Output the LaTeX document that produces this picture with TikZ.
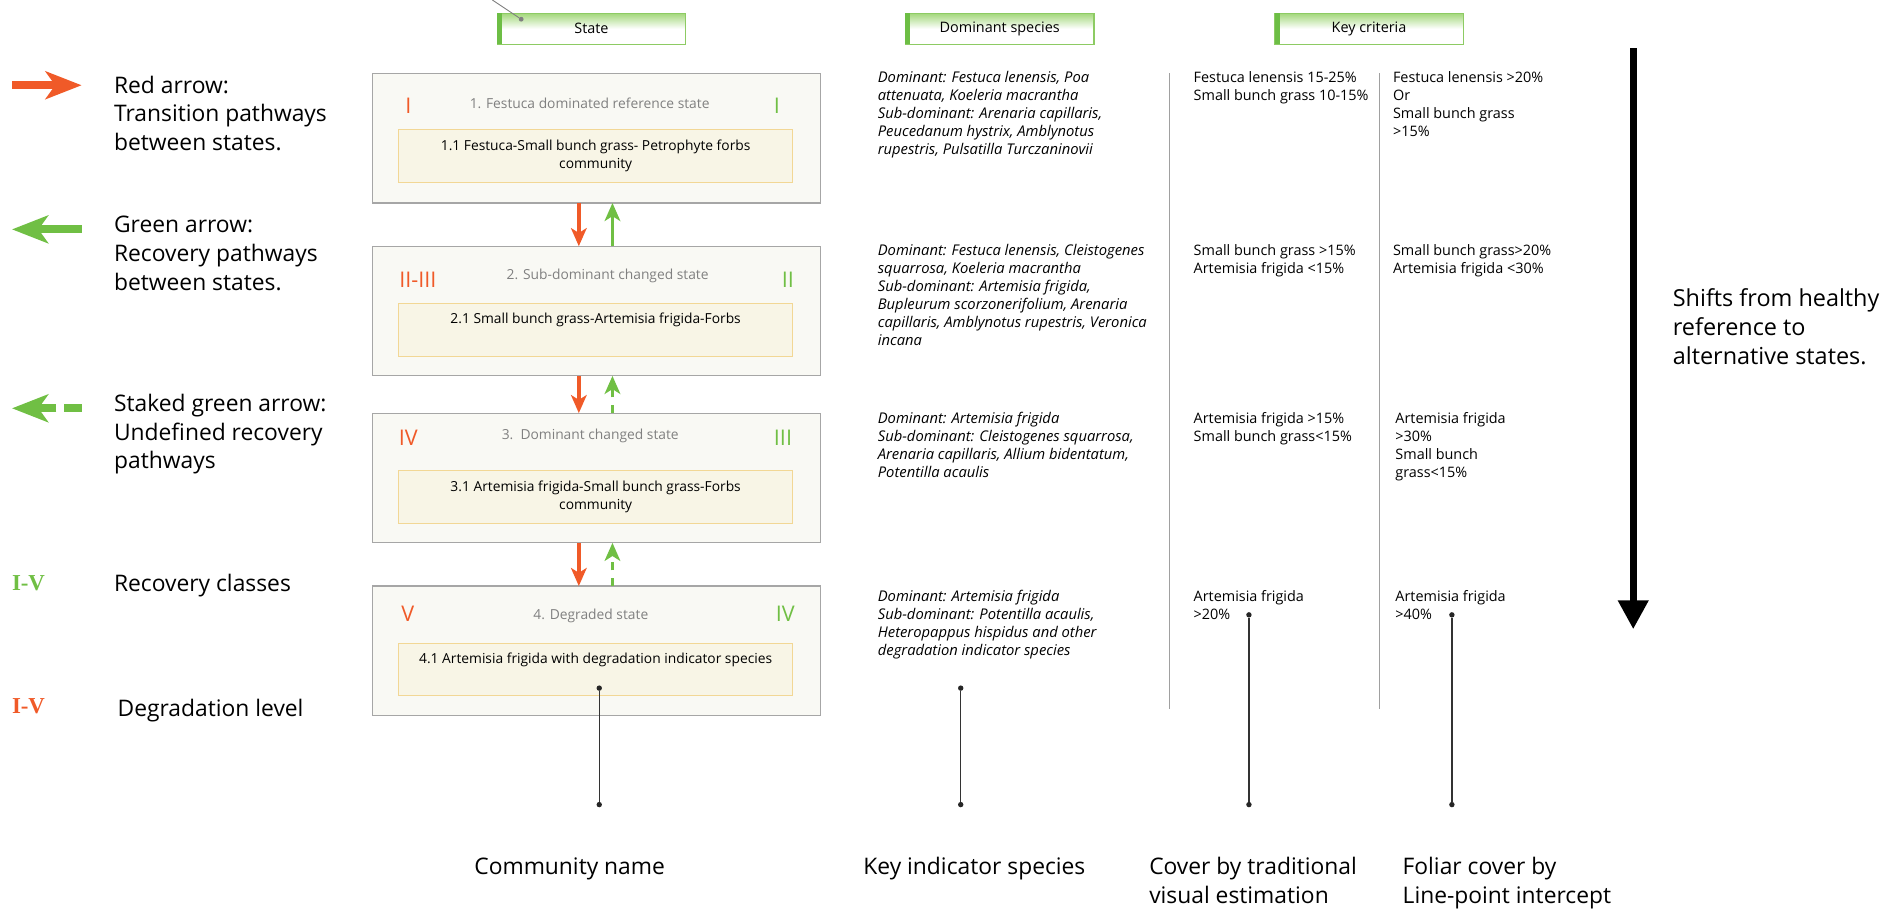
\documentclass[tikz,border=0pt]{standalone}
\usepackage{fontspec}
\setmainfont{Open Sans}
\newfontfamily\numfont{Liberation Serif}
\usetikzlibrary{arrows.meta}
\definecolor{cred}{HTML}{F05A28}
\definecolor{cgreen}{HTML}{70BF44}
\definecolor{boxfill}{HTML}{F9F9F4}
\definecolor{boxdraw}{HTML}{A6A6A6}
\definecolor{infill}{HTML}{F8F5E6}
\definecolor{indraw}{HTML}{F2D795}
\definecolor{titlegray}{HTML}{808080}
\definecolor{hdrgreen}{HTML}{A2D77A}
\definecolor{hdrborder}{HTML}{8DCB63}
\definecolor{hdrbar}{HTML}{6DBE45}
\definecolor{vline}{HTML}{A0A0A0}
\begin{document}
\begin{tikzpicture}[x=1pt,y=-1pt,
  every node/.style={inner sep=0pt, outer sep=0pt},
  hdr/.style={draw=hdrborder, line width=0.9pt, top color=hdrgreen, bottom color=white, middle color=white, minimum width=157pt, minimum height=26pt, font=\fontsize{12}{14}\selectfont},
  stbox/.style={draw=boxdraw, fill=boxfill, line width=1pt, minimum width=373pt, minimum height=108pt},
  inbox/.style={draw=indraw, fill=infill, line width=0.8pt, minimum width=328pt, minimum height=44pt, align=center, font=\fontsize{11.5}{15}\selectfont},
  sttitle/.style={text=titlegray, font=\fontsize{11.5}{14}\selectfont},
  rnum/.style={font=\fontsize{18}{20}\selectfont},
  spec/.style={anchor=north west, align=left, font=\fontsize{12.3}{15}\selectfont\itshape},
  crit/.style={anchor=north west, align=left, font=\fontsize{12}{15}\selectfont},
  legtext/.style={anchor=north west, align=left, font=\fontsize{19}{24}\selectfont},
  trans/.style={draw=cred, line width=2.8pt, -{Stealth[length=15pt,width=13pt,inset=4pt]}},
  recov/.style={draw=cgreen, line width=2.8pt, -{Stealth[length=15pt,width=13pt,inset=4pt]}},
  recovdash/.style={recov, dash pattern=on 7pt off 6pt},
  bigred/.style={draw=cred, line width=6.5pt, -{Stealth[length=30pt,width=23pt,inset=8pt]}},
  biggreen/.style={draw=cgreen, line width=6.5pt, -{Stealth[length=30pt,width=23pt,inset=8pt]}},
  leader/.style={draw=black!80, line width=1.2pt},
  dotmark/.style={circle, fill=black!85, minimum size=4.5pt},
  numlab/.style={anchor=west, font=\fontsize{19}{20}\selectfont\numfont\bfseries}
]
\useasboundingbox (0,0) rectangle (1568,757);

% header boxes
\node[hdr] (hS) at (492.5,24) {State};
\node[hdr] (hD) at (832.5,24) {Dominant species};
\node[hdr] (hK) at (1140,24) {Key criteria};
\foreach \h in {hS,hD,hK}{
  \fill[hdrbar] (\h.north west) rectangle ([xshift=4pt]\h.south west);
}
\coordinate (st0) at (410,0);
\node[circle, fill=gray, minimum size=4pt] (stdot) at (434,16) {};
\draw[gray, line width=0.8pt] (st0) -- (stdot);

% state boxes
\node[stbox] (s1) at (496.5,115) {};
\node[stbox] (s2) at (496.5,259) {};
\node[stbox] (s3) at (496.5,398) {};
\node[stbox] (s4) at (496.5,542) {};

\node[sttitle] (t1) at (491,86) {1. Festuca dominated reference state};
\node[sttitle] (t2) at (506,230) {2. Sub-dominant changed state};
\node[sttitle] (t3) at (491.5,363) {3.\ \ Dominant changed state};
\node[sttitle] (t4) at (492,513) {4. Degraded state};

\node[inbox] (i1) at (496,130) {1.1 Festuca-Small bunch grass- Petrophyte forbs\\community};
\node[inbox] (i2) at (496,274.5) {2.1 Small bunch grass-Artemisia frigida-Forbs\\\strut};
\node[inbox] (i3) at (496,413.5) {3.1 Artemisia frigida-Small bunch grass-Forbs\\community};
\node[inbox] (i4) at (496,557.5) {4.1 Artemisia frigida with degradation indicator species\\\strut};

% roman numerals
\node[rnum, text=cred] (d1) at (340,88.5) {I};
\node[rnum, text=cgreen] (r1) at (647,88.5) {I};
\node[rnum, text=cred] (d2) at (348,233) {II-III};
\node[rnum, text=cgreen] (r2) at (656,233) {II};
\node[rnum, text=cred] (d3) at (340,364.5) {IV};
\node[rnum, text=cgreen] (r3) at (652,364.5) {III};
\node[rnum, text=cred] (d4) at (339.5,511) {V};
\node[rnum, text=cgreen] (r4) at (654,511) {IV};

% transition arrows between states
\coordinate (rx) at (482,0);
\coordinate (gx) at (510,0);
\draw[trans] (s1.south -| rx) -- (s2.north -| rx);
\draw[recov] (s2.north -| gx) -- (s1.south -| gx);
\draw[trans] (s2.south -| rx) -- (s3.north -| rx);
\draw[recovdash] (s3.north -| gx) -- (s2.south -| gx);
\draw[trans] (s3.south -| rx) -- (s4.north -| rx);
\draw[recovdash] (s4.north -| gx) -- (s3.south -| gx);

% dominant species (top = baseline - 10.5)
\node[spec] (sp1) at (731,58.5) {\strut Dominant: Festuca lenensis, Poa\\attenuata, Koeleria macrantha\\Sub-dominant: Arenaria capillaris,\\Peucedanum hystrix, Amblynotus\\rupestris, Pulsatilla Turczaninovii};
\node[spec] (sp2) at (731,202.5) {\strut Dominant: Festuca lenensis, Cleistogenes\\squarrosa, Koeleria macrantha\\Sub-dominant: Artemisia frigida,\\Bupleurum scorzonerifolium, Arenaria\\capillaris, Amblynotus rupestris, Veronica\\incana};
\node[spec] (sp3) at (731,342.5) {\strut Dominant: Artemisia frigida\\Sub-dominant: Cleistogenes squarrosa,\\Arenaria capillaris, Allium bidentatum,\\Potentilla acaulis};
\node[spec] (sp4) at (731,490.5) {\strut Dominant: Artemisia frigida\\Sub-dominant: Potentilla acaulis,\\Heteropappus hispidus and other\\degradation indicator species};

% separators
\coordinate (v1a) at (974,61); \coordinate (v1b) at (974,590);
\coordinate (v2a) at (1149,61); \coordinate (v2b) at (1149,590);
\draw[vline, line width=0.9pt] (v1a) -- (v1b);
\draw[vline, line width=0.9pt] (v2a) -- (v2b);

% cover
\node[crit] (c1) at (994,58.5) {\strut Festuca lenensis 15-25\%\\Small bunch grass 10-15\%};
\node[crit] (c2) at (994,202.5) {\strut Small bunch grass >15\%\\Artemisia frigida <15\%};
\node[crit] (c3) at (994,342.5) {\strut Artemisia frigida >15\%\\Small bunch grass<15\%};
\node[crit] (c4) at (994,490.5) {\strut Artemisia frigida\\>20\%};

% criteria
\node[crit] (k1) at (1160,58.5) {\strut Festuca lenensis >20\%\\Or\\Small bunch grass\\>15\%};
\node[crit] (k2) at (1160,202.5) {\strut Small bunch grass>20\%\\Artemisia frigida <30\%};
\node[crit] (k3) at (1162,342.5) {\strut Artemisia frigida\\>30\%\\Small bunch\\grass<15\%};
\node[crit] (k4) at (1162,490.5) {\strut Artemisia frigida\\>40\%};

% leader lines
\node[dotmark] (la) at (499,573) {};
\node[dotmark] (lb) at (499,670) {};
\node[dotmark] (ma) at (800,573) {};
\node[dotmark] (mb) at (800,670) {};
\node[dotmark] (na) at (1040,512) {};
\node[dotmark] (nb) at (1040,670) {};
\node[dotmark] (oa) at (1209,512) {};
\node[dotmark] (ob) at (1209,670) {};
\draw[leader] (la) -- (lb);
\draw[leader] (ma) -- (mb);
\draw[leader] (na) -- (nb);
\draw[leader] (oa) -- (ob);

% bottom labels (top = baseline - 16.8)
\node[legtext] (b1) at (395,711.7) {\strut Community name};
\node[legtext] (b2) at (719,711.7) {\strut Key indicator species};
\node[legtext] (b3) at (957,711.7) {\strut Cover by traditional\\visual estimation};
\node[legtext] (b4) at (1168,711.7) {\strut Foliar cover by\\Line-point intercept};

% legend
\coordinate (lr1) at (10,71); \coordinate (lr2) at (68,71);
\draw[bigred] (lr1) -- (lr2);
\node[legtext] (lt1) at (95,60.7) {\strut Red arrow:\\Transition pathways\\between states.};
\coordinate (lg1) at (68,191); \coordinate (lg2) at (10,191);
\draw[biggreen] (lg1) -- (lg2);
\node[legtext] (lt2) at (95,176.7) {\strut Green arrow:\\Recovery pathways\\between states.};
\coordinate (ld1) at (68,340); \coordinate (ld2) at (10,340);
\draw[biggreen, dash pattern=on 15pt off 6pt] (ld1) -- (ld2);
\node[legtext] (lt3) at (95,325.7) {\strut Staked green arrow:\\Undefined recovery\\pathways};
\node[numlab, text=cgreen] (lv1) at (10,486) {I-V};
\node[legtext] (lt4) at (95,475.7) {\strut Recovery classes};
\node[numlab, text=cred] (lv2) at (10,588) {I-V};
\node[legtext] (lt5) at (98,579.7) {\strut Degradation level};

% shift arrow
\coordinate (ba1) at (1360,40); \coordinate (ba2) at (1360,524);
\draw[line width=6pt, -{Triangle[length=24pt,width=24pt]}] (ba1) -- (ba2);
\node[legtext, font=\fontsize{19.5}{24}\selectfont] (sh) at (1393,238.7) {\strut Shifts from healthy\\reference to\\alternative states.};
\end{tikzpicture}
\end{document}
